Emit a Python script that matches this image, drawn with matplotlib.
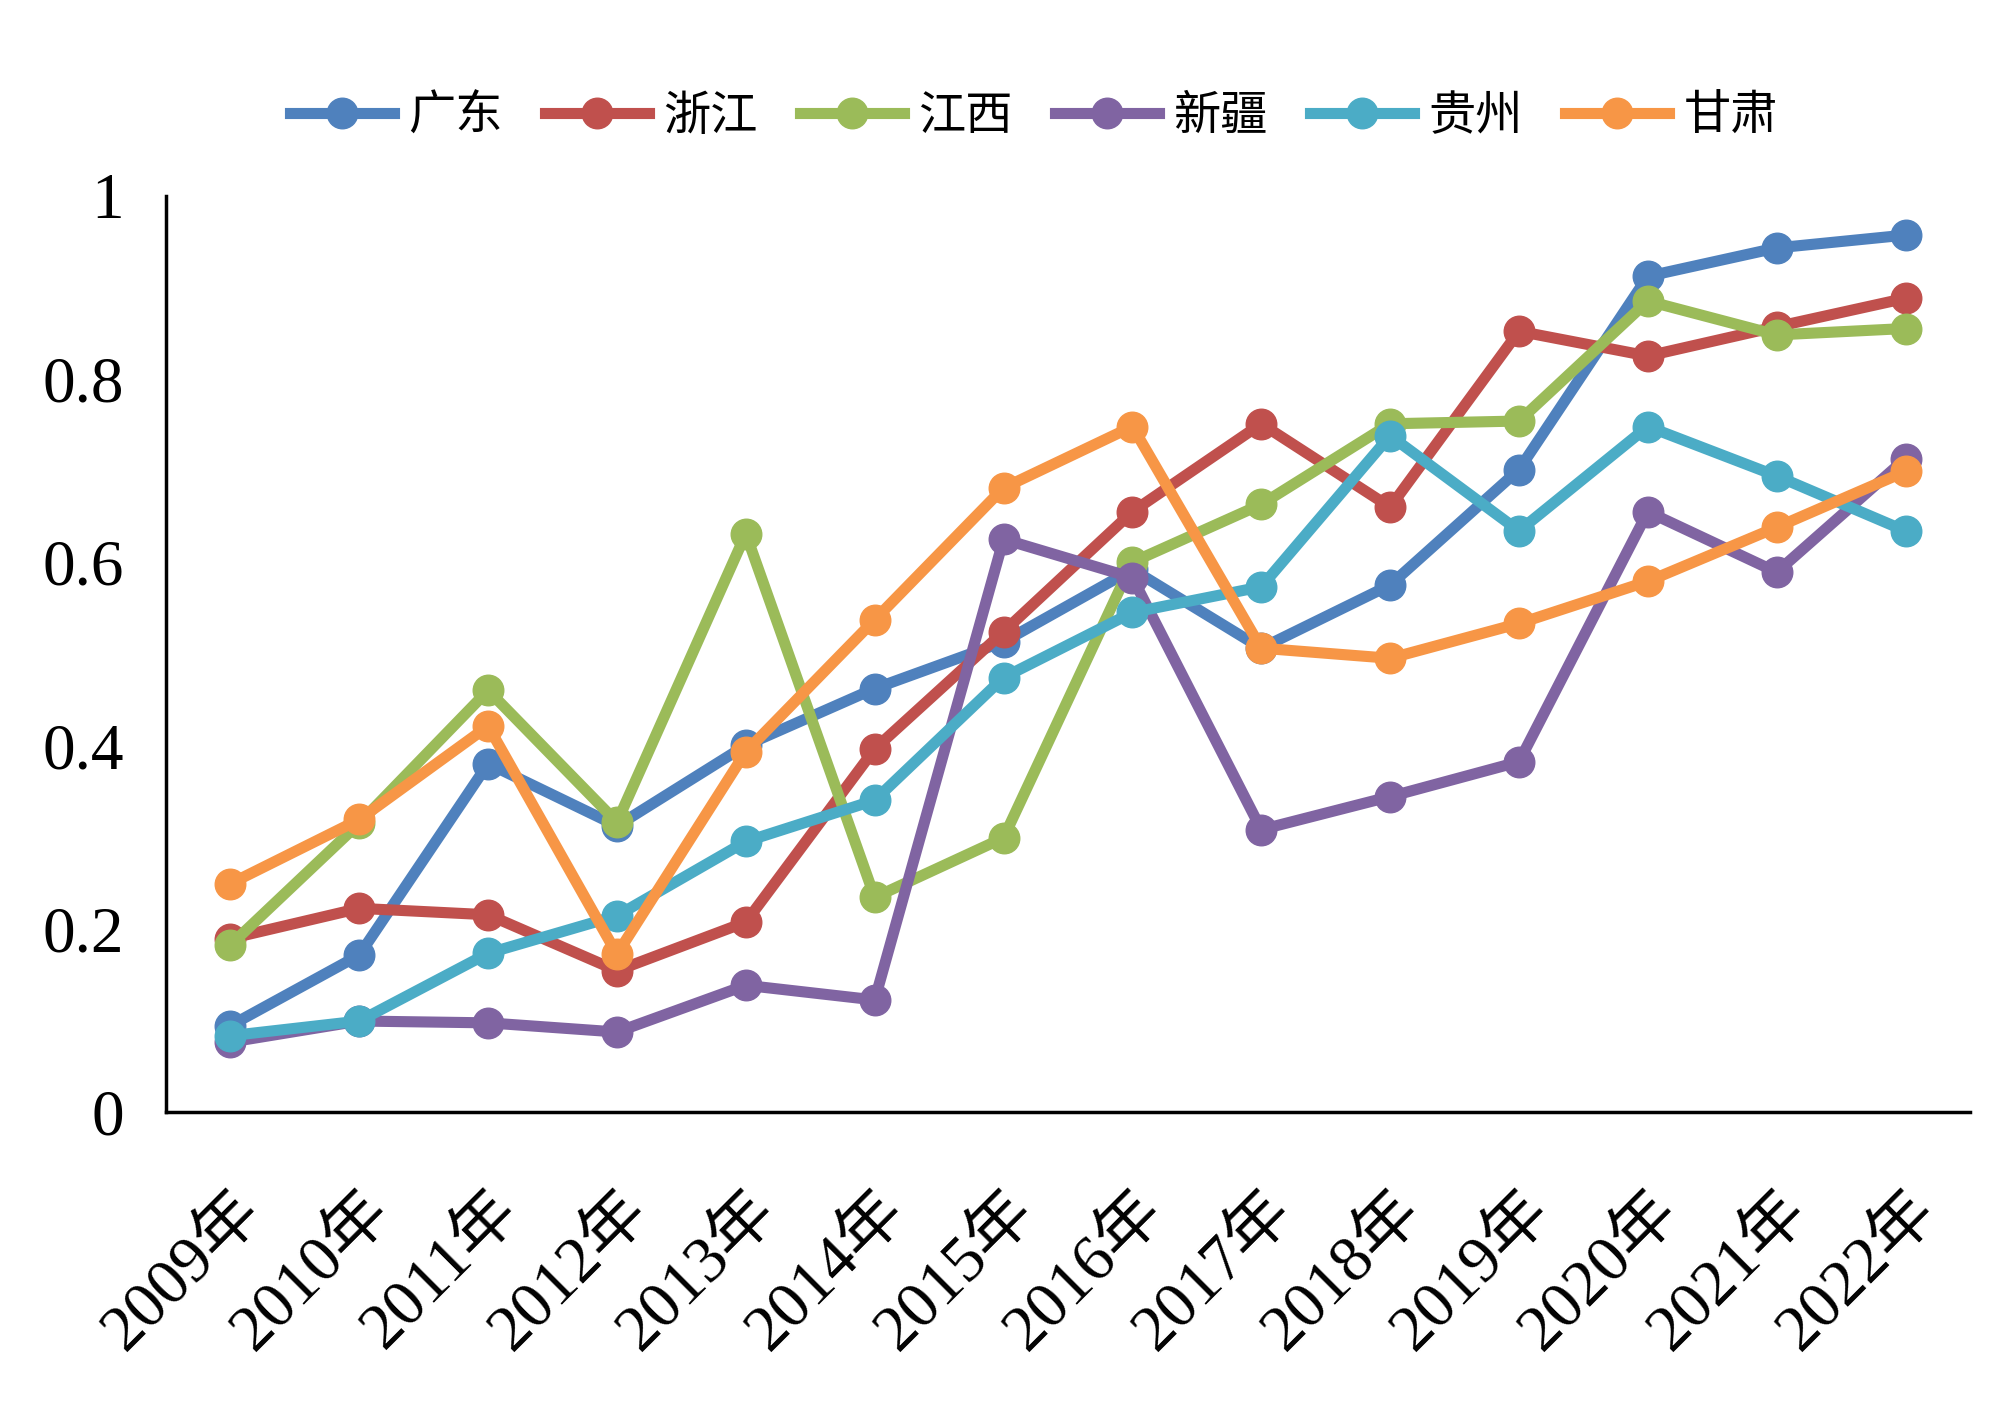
import matplotlib.pyplot as plt

plt.rcParams['font.family'] = ['Liberation Serif', 'Noto Sans CJK SC', 'DejaVu Sans']

# 数据
years = ['2009年', '2010年', '2011年', '2012年', '2013年', '2014年', '2015年',
         '2016年', '2017年', '2018年', '2019年', '2020年', '2021年', '2022年']

guangdong = [0.094, 0.171, 0.380, 0.312, 0.400, 0.462, 0.513, 0.592, 0.506, 0.575, 0.701, 0.912, 0.943, 0.957]
zhejiang  = [0.189, 0.222, 0.215, 0.154, 0.207, 0.396, 0.524, 0.655, 0.751, 0.660, 0.852, 0.825, 0.857, 0.888]
jiangxi   = [0.182, 0.315, 0.460, 0.316, 0.631, 0.234, 0.299, 0.600, 0.663, 0.751, 0.754, 0.885, 0.848, 0.855]
xinjiang  = [0.076, 0.099, 0.097, 0.087, 0.138, 0.122, 0.625, 0.583, 0.308, 0.344, 0.382, 0.655, 0.589, 0.713]
guizhou   = [0.083, 0.099, 0.173, 0.214, 0.295, 0.340, 0.474, 0.545, 0.573, 0.738, 0.634, 0.748, 0.694, 0.634]
gansu     = [0.249, 0.319, 0.421, 0.172, 0.393, 0.537, 0.681, 0.748, 0.506, 0.495, 0.533, 0.579, 0.638, 0.699]

series = [('广东', guangdong, '#4F81BD'),
          ('浙江', zhejiang, '#C0504D'),
          ('江西', jiangxi, '#9BBB59'),
          ('新疆', xinjiang, '#8064A2'),
          ('贵州', guizhou, '#4BACC6'),
          ('甘肃', gansu, '#F79646')]

fig = plt.figure(figsize=(20, 14.18), dpi=100)
ax = fig.add_axes([0.083, 0.216, 0.902, 0.646])

x = list(range(len(years)))
for name, vals, col in series:
    ax.plot(x, vals, '-o', color=col, label=name, linewidth=8,
            markersize=22, clip_on=False)

ax.set_xlim(-0.5, 13.5)
ax.set_ylim(0, 1)
ax.set_yticks([0, 0.2, 0.4, 0.6, 0.8, 1])
ax.set_yticklabels(['0', '0.2', '0.4', '0.6', '0.8', '1'])
ax.set_xticks(x)
ax.set_xticklabels(years, rotation=45, ha='right', va='top', rotation_mode='anchor')

ax.tick_params(axis='both', length=0, labelsize=47)
ax.tick_params(axis='y', pad=30)
ax.tick_params(axis='x', pad=50)

for s in ['top', 'right']:
    ax.spines[s].set_visible(False)
for s in ['left', 'bottom']:
    ax.spines[s].set_linewidth(2.5)
    ax.spines[s].set_color('black')

fig.legend(loc='center', bbox_to_anchor=(0.517, 0.917), ncol=6, frameon=False,
           fontsize=34, handlelength=2.2, columnspacing=0.9, handletextpad=0.3)

fig.savefig('out.png', dpi=100)
